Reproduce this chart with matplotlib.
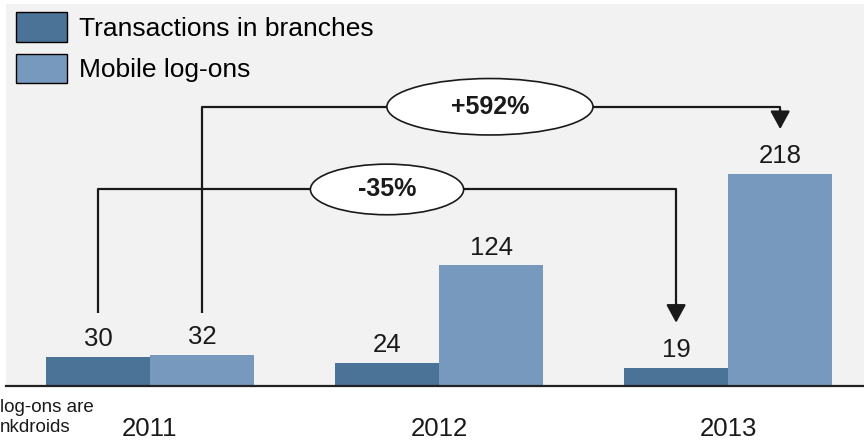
import matplotlib
matplotlib.use("Agg")
import matplotlib.pyplot as plt
from matplotlib.patches import Ellipse, Patch

plt.rcParams["font.family"] = ["Liberation Sans", "DejaVu Sans"]

# Data
years = ["2011", "2012", "2013"]
branch_tx = [30, 24, 19]
mobile_logons = [32, 124, 218]
series_names = ["Transactions in branches", "Mobile log-ons"]
change_branch = "-35%"
change_mobile = "+592%"
note_lines = ["log-ons are", "nkdroids"]

# Styling
DARK = "#4b7398"
LIGHT = "#7799bd"
BG = "#f2f2f2"
INK = "#1a1a1a"
W, H, DPI = 864, 442, 100

fig = plt.figure(figsize=(W / DPI, H / DPI), dpi=DPI, facecolor="white")
ax = fig.add_axes([6 / W, 1 - 386 / H, (W - 6) / W, (386 - 4) / H])
ax.set_facecolor(BG)

bw = 0.36
x = list(range(len(years)))
xd = [i - bw / 2 for i in x]
xl = [i + bw / 2 for i in x]
ax.bar(xd, branch_tx, width=bw, color=DARK, zorder=2)
ax.bar(xl, mobile_logons, width=bw, color=LIGHT, zorder=2)

ax.set_xlim(-0.498, 2.47)
ax.set_ylim(0, 392.6)

for xs, vals in ((xd, branch_tx), (xl, mobile_logons)):
    for xi, v in zip(xs, vals):
        ax.annotate(str(v), (xi, v), xytext=(0, 7.5), textcoords="offset points",
                    ha="center", va="baseline", fontsize=18.5, color=INK)

# Connector from 2011 to 2013 for each series
def connector(x0, x1, y_start, y_level, y_tip, label, ex, ew, eh):
    ax.plot([x0, x0, x1, x1], [y_start, y_level, y_level, y_tip + 12],
            color=INK, lw=1.6, solid_capstyle="butt", zorder=3)
    ax.annotate("", xy=(x1, y_tip), xytext=(x1, y_tip + 20),
                arrowprops=dict(arrowstyle="-|>,head_length=0.55,head_width=0.3",
                                mutation_scale=20, color=INK, lw=1.6,
                                shrinkA=0, shrinkB=0), zorder=4)
    ax.add_patch(Ellipse((ex, y_level), ew, eh, facecolor="white",
                         edgecolor=INK, lw=1.2, zorder=5))
    ax.text(ex, y_level, label, ha="center", va="center", fontsize=18,
            fontweight="bold", color=INK, zorder=6)

connector(xd[0], xd[2], 75, 202, 65, change_branch, 0.82, 0.53, 52)
connector(xl[0], xl[2], 75, 287, 264, change_mobile, 1.176, 0.713, 58)

# Axes styling
for s in ("left", "right", "top"):
    ax.spines[s].set_visible(False)
ax.spines["bottom"].set_color("#222222")
ax.spines["bottom"].set_linewidth(1.6)
ax.set_yticks([])
ax.set_xticks(x)
ax.set_xticklabels(years, fontsize=18.5, color=INK)
ax.tick_params(axis="x", length=0, pad=22)

handles = [Patch(facecolor=DARK, edgecolor="black", lw=1.0),
           Patch(facecolor=LIGHT, edgecolor="black", lw=1.0)]
fig.legend(handles, series_names, loc="upper left",
           bbox_to_anchor=(16 / W, 1 - 12 / H), frameon=False, fontsize=19,
           handlelength=1.95, handleheight=1.36, handletextpad=0.42,
           labelspacing=0.45, borderpad=0, borderaxespad=0)

fig.text(0, 1 - 407 / H, note_lines[0], fontsize=13.5, color=INK,
         ha="left", va="center")
fig.text(0, 1 - 428 / H, note_lines[1], fontsize=13.5, color=INK,
         ha="left", va="center")

fig.savefig("out.png", dpi=DPI, facecolor="white")
